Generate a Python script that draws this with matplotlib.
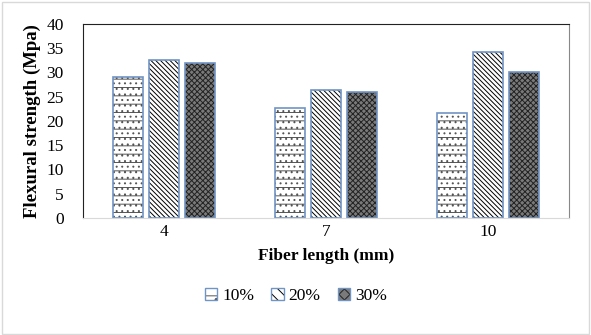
import matplotlib.pyplot as plt
import numpy as np
from matplotlib.patches import Patch

plt.rcParams['font.family'] = ['Liberation Serif', 'DejaVu Serif']
plt.rcParams['hatch.linewidth'] = 0.7

fiber_lengths = ['4', '7', '10']
series_labels = ['10%', '20%', '30%']
strength_10 = [29.1, 22.7, 21.6]
strength_20 = [32.6, 26.3, 34.3]
strength_30 = [31.9, 26.0, 30.0]

faces = ['white', 'white', '#7a7a7a']
hatches = ['--...', '\\' * 7, 'x' * 6]
hatch_colors = ['#555555', 'black', '#222222']
edge_blue = '#7094c4'

fig = plt.figure(figsize=(5.91, 3.35), dpi=100)
fig.patches.append(plt.Rectangle((0.003, 0.004), 0.994, 0.99, transform=fig.transFigure,
                                 fill=False, edgecolor='#d9d9d9', linewidth=1.0))
ax = fig.add_axes([83 / 591, 1 - 218 / 335, 486 / 591, 194 / 335])

x = np.arange(len(fiber_lengths))
width = 0.18
pitch = 0.222
for i, values in enumerate([strength_10, strength_20, strength_30]):
  pos = x + (i - 1) * pitch
  ax.bar(pos, values, width, color=faces[i], hatch=hatches[i], edgecolor=hatch_colors[i], linewidth=0)
  ax.bar(pos, values, width, fill=False, edgecolor=edge_blue, linewidth=1.2)

ax.set_xlim(-0.5, 2.5)
ax.set_ylim(0, 40)
ax.set_yticks(range(0, 41, 5))
ax.set_xticks(x)
ax.set_xticklabels(fiber_lengths)
ax.tick_params(length=0, labelsize=12.5)
ax.tick_params(axis='y', pad=14)
ax.tick_params(axis='x', pad=4)
ax.spines['left'].set_color('#222222')
ax.spines['top'].set_color('#222222')
ax.spines['right'].set_color('#888888')
ax.spines['bottom'].set_color('#d9d9d9')
ax.set_ylabel('Flexural strength (Mpa)', fontsize=13.5, fontweight='bold', labelpad=4)
ax.set_xlabel('Fiber length (mm)', fontsize=12.5, fontweight='bold', labelpad=6)

handles = [(Patch(facecolor=faces[i], hatch=hatches[i][:3], edgecolor=hatch_colors[i], linewidth=0),
            Patch(fill=False, edgecolor=edge_blue, linewidth=1.0)) for i in range(3)]
fig.legend(handles=handles, labels=series_labels, loc='center',
           bbox_to_anchor=(296 / 591, 1 - 296 / 335), ncol=3,
           frameon=False, fontsize=12.5, handlelength=0.7, handleheight=0.7,
           handletextpad=0.3, columnspacing=1.0)

fig.savefig('out.png', dpi=100)
